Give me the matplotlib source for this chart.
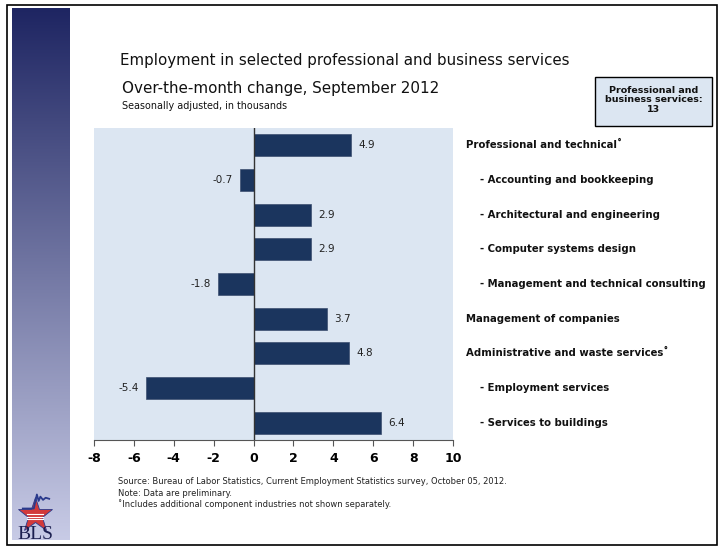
import numpy as np
import matplotlib
matplotlib.use('Agg')
import matplotlib.pyplot as plt
import matplotlib.transforms as mtransforms
from matplotlib.patches import Rectangle

# data
categories = ['Professional and technical\u02da',
              '- Accounting and bookkeeping',
              '- Architectural and engineering',
              '- Computer systems design',
              '- Management and technical consulting',
              'Management of companies',
              'Administrative and waste services\u02da',
              '- Employment services',
              '- Services to buildings']
values = [4.9, -0.7, 2.9, 2.9, -1.8, 3.7, 4.8, -5.4, 6.4]
value_labels = ['4.9', '-0.7', '2.9', '2.9', '-1.8', '3.7', '4.8', '-5.4', '6.4']
xticks = [-8, -6, -4, -2, 0, 2, 4, 6, 8, 10]
total_label = 'Professional and\nbusiness services:\n13'

W, H = 719, 546
fig = plt.figure(figsize=(W / 100, H / 100), dpi=100)
fig.patch.set_facecolor('white')

def fx(px):
    return px / W

def fy(py):
    return 1 - py / H

# left gradient sidebar
side = fig.add_axes([fx(12), fy(540), fx(70) - fx(12), fy(8) - fy(540)])
top = np.array([0x1e, 0x25, 0x62]) / 255
bot = np.array([0xc8, 0xcb, 0xe6]) / 255
t = np.linspace(0, 1, 256)[:, None]
grad = top[None, :] * (1 - t) + bot[None, :] * t
side.imshow(grad[:, None, :], aspect='auto', extent=[0, 1, 0, 1])
side.axis('off')

# BLS logo (rough)
logo = fig.add_axes([fx(14), fy(542), fx(58) - fx(14), fy(488) - fy(542)])
logo.set_xlim(0, 1)
logo.set_ylim(0, 1)
logo.axis('off')
logo.plot([0.48], [0.5], marker='*', markersize=26, color='#d23a3a', mec='#2a3a8c', mew=0.6)
for yy in [0.42, 0.47, 0.52]:
    logo.plot([0.3, 0.66], [yy, yy], color='white', lw=0.8)
logo.plot([0.2, 0.45, 0.52, 0.56, 0.6, 0.66, 0.72, 0.8],
          [0.62, 0.62, 0.88, 0.76, 0.84, 0.78, 0.82, 0.8], color='#2a3a8c', lw=1.3)
logo.text(0.48, -0.02, 'BLS', ha='center', va='bottom', fontsize=14,
          family='Liberation Serif', color='#1b1f50')

# main axes
ax = fig.add_axes([fx(94), fy(440), fx(453) - fx(94), fy(128) - fy(440)])
ax.set_facecolor('#dce6f2')
y = np.arange(len(values))
ax.barh(y, values, height=0.64, color='#1b355e', edgecolor='#3d4f70', linewidth=0.5, zorder=3)
ax.axvline(0, color='#333333', lw=1, zorder=4)
ax.set_xlim(-8, 10)
ax.set_ylim(len(values) - 0.5, -0.5)
ax.set_xticks(xticks)
ax.set_xticklabels([str(v) for v in xticks], fontsize=9, fontweight='bold')
ax.set_yticks([])
for s in ['top', 'right', 'left']:
    ax.spines[s].set_visible(False)
ax.spines['bottom'].set_color('#555555')
ax.tick_params(axis='x', direction='out', length=4, color='#555555', pad=5)

for yi, v, lab in zip(y, values, value_labels):
    if v >= 0:
        ax.annotate(lab, (v, yi), xytext=(5, 0), textcoords='offset points',
                    ha='left', va='center', fontsize=7.5, color='#222222')
    else:
        ax.annotate(lab, (v, yi), xytext=(-5, 0), textcoords='offset points',
                    ha='right', va='center', fontsize=7.5, color='#222222')

trans = mtransforms.blended_transform_factory(fig.transFigure, ax.transData)
for yi, c in zip(y, categories):
    xpos = fx(480) if c.startswith('-') else fx(466)
    ax.text(xpos, yi, c, transform=trans, ha='left', va='center',
            fontsize=7.3, fontweight='bold', color='#111111', clip_on=False)

# titles
fig.text(fx(120), fy(61), 'Employment in selected professional and business services',
         fontsize=10.8, va='center', ha='left', color='#111111')
fig.text(fx(122), fy(89), 'Over-the-month change, September 2012',
         fontsize=10.9, va='center', ha='left', color='#111111')
fig.text(fx(122), fy(106), 'Seasonally adjusted, in thousands',
         fontsize=6.9, va='center', ha='left', color='#111111')

# total box
fig.patches.append(Rectangle((fx(595), fy(126)), fx(712) - fx(595), fy(77) - fy(126),
                             transform=fig.transFigure, facecolor='#dce6f2',
                             edgecolor='black', lw=1))
fig.text(fx(653.5), fy(100), total_label, ha='center', va='center',
         fontsize=6.8, fontweight='bold', linespacing=1.1, color='#111111')

# footnotes
notes = ['Source: Bureau of Labor Statistics, Current Employment Statistics survey, October 05, 2012.',
         'Note: Data are preliminary.',
         '\u02daIncludes additional component industries not shown separately.']
for i, n in enumerate(notes):
    fig.text(fx(118), fy(482 + 11 * i), n, fontsize=6.0, va='center', ha='left', color='#222222')

# outer border
fig.patches.append(Rectangle((fx(7), fy(545)), fx(717) - fx(7), fy(5) - fy(545),
                             transform=fig.transFigure, facecolor='none',
                             edgecolor='black', lw=1.2))

fig.savefig('out.png', dpi=100)
